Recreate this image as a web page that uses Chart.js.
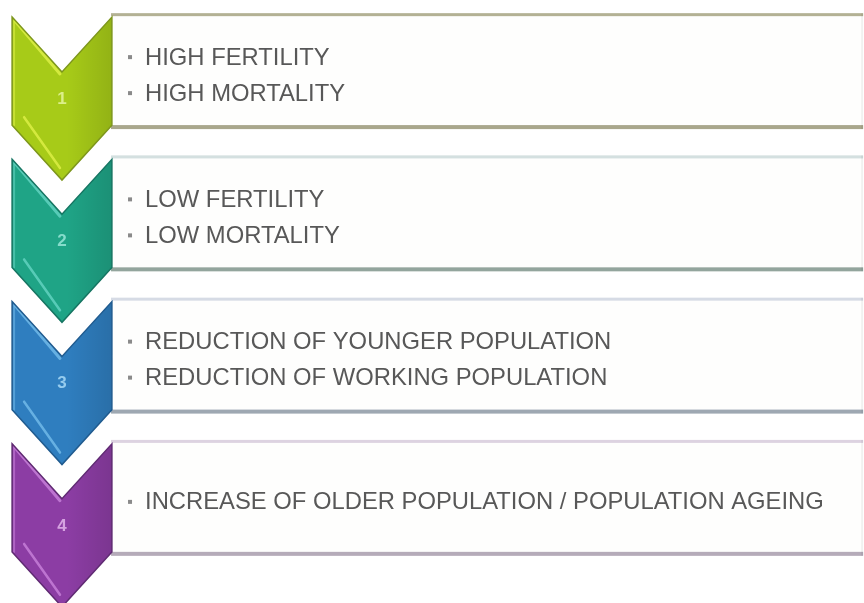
<!DOCTYPE html>
<html>
<head>
<meta charset="utf-8">
<script src="https://cdn.jsdelivr.net/npm/chart.js@4"></script>
<style>
  html, body { margin: 0; padding: 0; background: #ffffff; }
  #wrap { width: 864px; height: 603px; }
</style>
</head>
<body>
<div id="wrap"><canvas id="steps" width="864" height="603"></canvas></div>
<script>
// step numbers and the bullet text in each box
const stepNumbers = ["1", "2", "3", "4"];
const stepLines = [
  ["HIGH FERTILITY", "HIGH MORTALITY"],
  ["LOW FERTILITY", "LOW MORTALITY"],
  ["REDUCTION OF YOUNGER POPULATION", "REDUCTION OF WORKING POPULATION"],
  ["INCREASE OF OLDER POPULATION / POPULATION AGEING"],
];
// extent of the white boxes and of the chevrons along the x axis (0-100)
const boxSpan = [[12.85, 99.9], [12.85, 99.9], [12.85, 99.9], [12.85, 99.9]];
const chevronSpan = [[1.4, 12.95], [1.4, 12.95], [1.4, 12.95], [1.4, 12.95]];

// colours per step: base, highlight, outline, number
const chevronBase = ["#a7cb18", "#1fa486", "#2f7ebf", "#8c3da4"];
const chevronLight = ["#dcee45", "#62d2c0", "#70b8e8", "#c67ed8"];
const chevronDark = ["#7d961c", "#167562", "#205b8f", "#5f2a72"];
const numberColor = ["#dcef8a", "#86dccb", "#96ccee", "#d5a2e0"];
const boxTopLine = ["#b3b194", "#d4e0e0", "#d6dbe5", "#ddd3e1"];
const boxBottomLine = ["#a9a78c", "#93a59d", "#9ea8b2", "#b5abb9"];

const chevronPlugin = {
  id: "chevrons",
  afterDatasetsDraw(chart) {
    const ctx = chart.ctx;
    const boxes = chart.getDatasetMeta(0).data;
    const chevs = chart.getDatasetMeta(1).data;

    // box edges
    boxes.forEach((el, i) => {
      const p = el.getProps(["x", "y", "base", "height"], true);
      const L = Math.min(p.x, p.base), R = Math.max(p.x, p.base);
      const T = p.y - p.height / 2, B = p.y + p.height / 2;
      ctx.save();
      ctx.fillStyle = boxTopLine[i];
      ctx.fillRect(L, T, R - L, 3);
      ctx.fillStyle = boxBottomLine[i];
      ctx.fillRect(L, B - 4, R - L, 4);
      ctx.fillStyle = "rgba(0,0,0,0.05)";
      ctx.fillRect(R - 2, T, 2, B - T);
      ctx.restore();
    });

    // chevrons
    chevs.forEach((el, i) => {
      const p = el.getProps(["x", "y", "base", "height"], true);
      const L = Math.min(p.x, p.base), R = Math.max(p.x, p.base);
      const T = p.y - p.height / 2, B = p.y + p.height / 2;
      const C = (L + R) / 2, d = 0.55 * (R - L);
      const shape = () => {
        ctx.beginPath();
        ctx.moveTo(L, T);
        ctx.lineTo(C, T + d);
        ctx.lineTo(R, T);
        ctx.lineTo(R, B);
        ctx.lineTo(C, B + d);
        ctx.lineTo(L, B);
        ctx.closePath();
      };
      ctx.save();
      shape();
      ctx.fillStyle = chevronBase[i];
      ctx.fill();
      ctx.clip();
      const g = ctx.createLinearGradient(L, 0, R, 0);
      g.addColorStop(0, "rgba(0,0,0,0)");
      g.addColorStop(0.55, "rgba(0,0,0,0)");
      g.addColorStop(1, "rgba(0,0,0,0.12)");
      ctx.fillStyle = g;
      ctx.fillRect(L, T, R - L, B + d - T);
      // bevel highlights
      ctx.strokeStyle = chevronLight[i];
      ctx.lineCap = "round";
      ctx.globalAlpha = 0.85;
      ctx.lineWidth = 3;
      ctx.beginPath();
      ctx.moveTo(L + 3, T + 4);
      ctx.lineTo(C - 2, T + d + 2);
      ctx.stroke();
      ctx.lineWidth = 2.5;
      ctx.beginPath();
      ctx.moveTo(L + 12, B - 8);
      ctx.lineTo(C - 2, B + d - 12);
      ctx.stroke();
      ctx.globalAlpha = 0.6;
      ctx.lineWidth = 2;
      ctx.beginPath();
      ctx.moveTo(L + 2, T + 2);
      ctx.lineTo(L + 2, B);
      ctx.stroke();
      ctx.restore();

      ctx.save();
      shape();
      ctx.strokeStyle = chevronDark[i];
      ctx.lineWidth = 1.5;
      ctx.stroke();
      ctx.fillStyle = numberColor[i];
      ctx.font = "bold 17px 'Liberation Sans', Arial, sans-serif";
      ctx.textAlign = "center";
      ctx.textBaseline = "middle";
      ctx.fillText(stepNumbers[i], C, T + 0.76 * (B - T));
      ctx.restore();
    });

    // bullet text
    boxes.forEach((el, i) => {
      const p = el.getProps(["x", "y", "base", "height"], true);
      const L = Math.min(p.x, p.base);
      const lines = stepLines[i];
      const gap = 36;
      const y0 = p.y + 4 - (gap * (lines.length - 1)) / 2;
      ctx.save();
      ctx.font = "23.8px 'Liberation Sans', Arial, sans-serif";
      ctx.textBaseline = "middle";
      ctx.textAlign = "left";
      lines.forEach((t, k) => {
        const y = y0 + k * gap;
        ctx.fillStyle = "#8a8a8a";
        ctx.fillRect(L + 17, y - 2, 4, 4);
        ctx.fillStyle = "#585858";
        ctx.fillText(t, L + 34, y + 1);
      });
      ctx.restore();
    });
  },
};

new Chart(document.getElementById("steps"), {
  type: "bar",
  data: {
    labels: stepNumbers,
    datasets: [
      {
        label: "boxes",
        data: boxSpan,
        backgroundColor: "#fefefd",
        borderWidth: 0,
        barPercentage: 0.815,
        categoryPercentage: 1,
        grouped: false,
      },
      {
        label: "steps",
        data: chevronSpan,
        backgroundColor: "rgba(0,0,0,0)",
        borderWidth: 0,
        barPercentage: 0.76,
        categoryPercentage: 1,
        grouped: false,
      },
    ],
  },
  options: {
    indexAxis: "y",
    responsive: false,
    animation: false,
    layout: { padding: { top: 0, bottom: 34, left: 0, right: 0 } },
    plugins: { legend: { display: false }, tooltip: { enabled: false } },
    scales: {
      x: { type: "linear", min: 0, max: 100, display: false },
      y: { display: false },
    },
  },
  plugins: [chevronPlugin],
});
</script>
</body>
</html>
